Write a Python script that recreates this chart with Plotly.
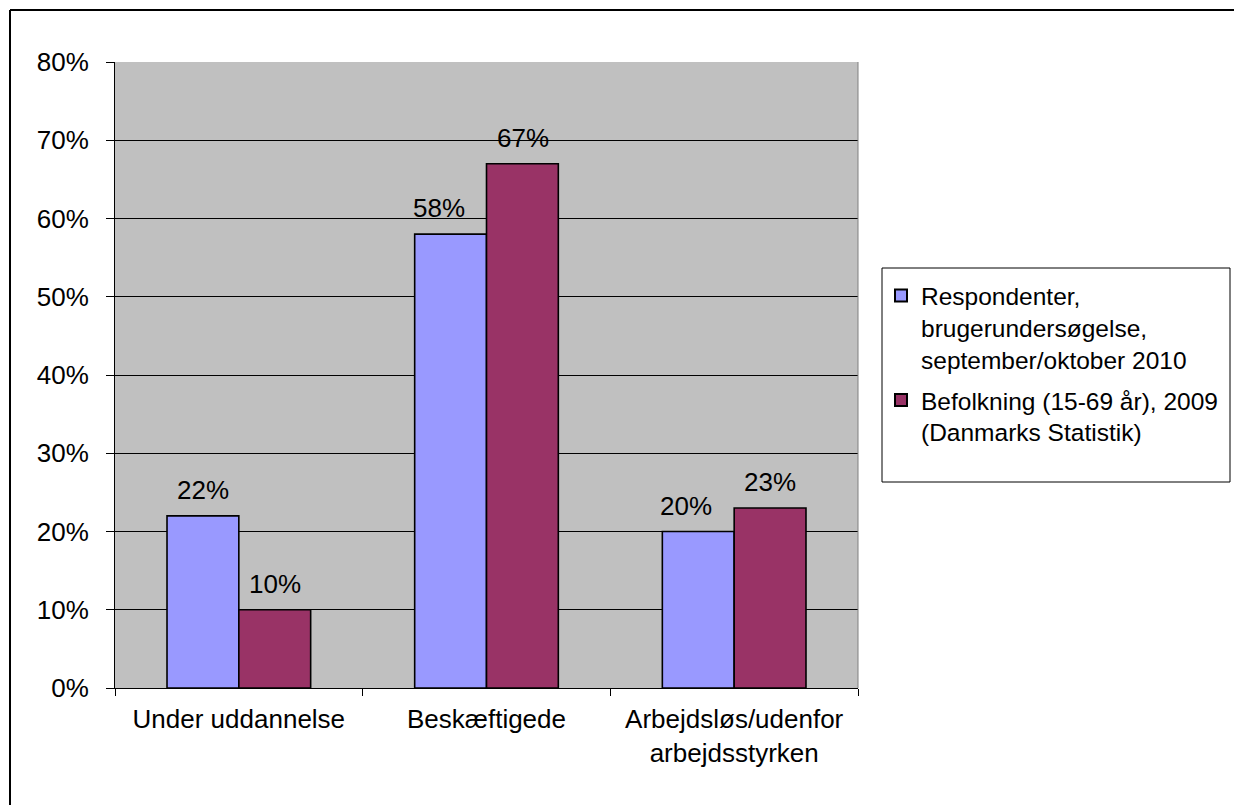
import plotly.graph_objects as go

categories = ["Under uddannelse", "Beskæftigede", "Arbejdsløs/udenfor<br>arbejdsstyrken"]
respondenter = [22, 58, 20]
befolkning = [10, 67, 23]
series_names = [
    "Respondenter,<br>brugerundersøgelse,<br>september/oktober 2010",
    "Befolkning (15-69 år), 2009<br>(Danmarks Statistik)",
]
series_colors = ["#9999FF", "#993366"]
y_ticks = [0, 10, 20, 30, 40, 50, 60, 70, 80]
y_tick_labels = [f"{v}%" for v in y_ticks]

W, H = 1234, 805
L, R, T, B = 115, 858, 62, 688  # plot area in pixels


def px_x(x):
    return (x - L) / (R - L)


def px_y(y):
    return (B - y) / (B - T)


font = dict(family="Liberation Sans, Arial, sans-serif", size=26, color="black")
legend_font = dict(family="Liberation Sans, Arial, sans-serif", size=24.5, color="black")

fig = go.Figure()
for i, (name, vals, color) in enumerate(
        [(series_names[0], respondenter, series_colors[0]),
         (series_names[1], befolkning, series_colors[1])]):
    fig.add_trace(go.Bar(
        x=categories, y=vals, name=name, legendgroup=f"g{i}",
        marker=dict(color=color, line=dict(color="black", width=1.6)),
        offsetgroup=str(i),
    ))

# value labels above each bar, placed at the bar's own value;
# the left label is nudged left when its neighbour is taller
annotations = []
series = [respondenter, befolkning]
for i, vals in enumerate(series):
    other = series[1 - i]
    for j, v in enumerate(vals):
        shift = -36 if i == 0 else 36
        if i == 0 and other[j] > v:
            shift -= 12
        annotations.append(dict(
            x=j, y=v, xref="x", yref="y", text=f"{v}%", showarrow=False,
            xshift=shift, yshift=26, yanchor="middle", font=font,
        ))

fig.update_layout(
    width=W, height=H,
    margin=dict(l=L, r=W - R, t=T, b=H - B, autoexpand=False),
    paper_bgcolor="white", plot_bgcolor="#C0C0C0",
    barmode="group", bargap=0.42, bargroupgap=0,
    font=font,
    showlegend=True,
    legend=dict(
        x=px_x(881), y=px_y(273), xanchor="left", yanchor="top",
        bgcolor="rgba(0,0,0,0)", borderwidth=0, valign="top",
        font=legend_font, itemsizing="constant", tracegroupgap=6,
        traceorder="grouped",
    ),
    xaxis=dict(
        showline=True, linecolor="black", linewidth=1,
        ticks="outside", tickson="boundaries", ticklen=7, tickcolor="black",
        showgrid=False, tickfont=font, ticklabelstandoff=8,
    ),
    yaxis=dict(
        range=[0, 80], tickvals=y_ticks, ticktext=y_tick_labels,
        showline=True, linecolor="black", linewidth=1,
        ticks="outside", ticklen=8, tickcolor="black",
        showgrid=True, gridcolor="black", gridwidth=1,
        zeroline=False, tickfont=font, ticklabelstandoff=12,
    ),
    annotations=annotations,
    shapes=[
        # outer chart frame (top and left edges)
        dict(type="line", xref="paper", yref="paper",
             x0=px_x(10), y0=px_y(10), x1=px_x(1240), y1=px_y(10),
             line=dict(color="black", width=2)),
        dict(type="line", xref="paper", yref="paper",
             x0=px_x(10), y0=px_y(10), x1=px_x(10), y1=px_y(810),
             line=dict(color="black", width=2)),
        # plot area right border
        dict(type="line", xref="paper", yref="paper",
             x0=1, y0=0, x1=1, y1=1, line=dict(color="#808080", width=1)),
        # legend box
        dict(type="rect", xref="paper", yref="paper",
             x0=px_x(882), y0=px_y(482), x1=px_x(1230), y1=px_y(268),
             line=dict(color="black", width=1)),
    ],
)

fig.write_html("out.html")
